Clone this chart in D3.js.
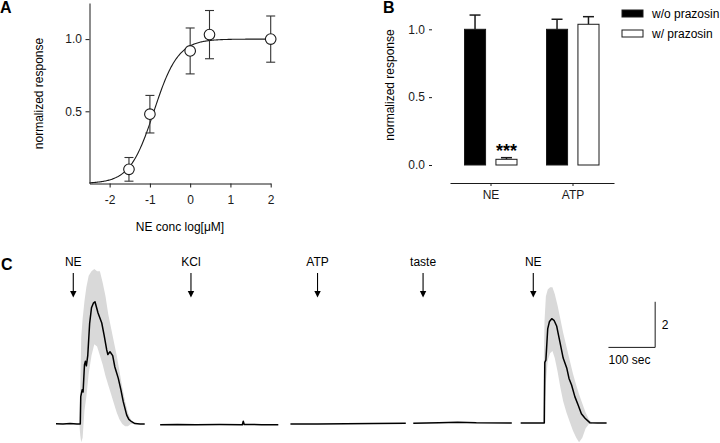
<!DOCTYPE html>
<html><head><meta charset="utf-8">
<script src="https://cdn.jsdelivr.net/npm/d3@7"></script>
<style>body{margin:0;background:#fff}svg{display:block;font-family:"Liberation Sans",Arial,sans-serif}</style>
</head><body><svg id="c" width="720" height="443"></svg>
<script>
// ---------- Panel A data ----------
const doseX = [-1.52, -1.0, 0.0, 0.48, 2.0];
const doseY = [0.098, 0.48, 0.918, 1.031, 1.0];
const doseErr = [0.082, 0.13, 0.159, 0.167, 0.16];
const fitLogEC50 = -0.9, fitHill = 1.45, fitTop = 1.0, fitBottom = 0.0;
const aXTicks = [-2, -1, 0, 1, 2];
const aYTicks = [0.5, 1.0];
// ---------- Panel B data ----------
const drugs = ["NE", "ATP"];
const seriesNames = ["w/o prazosin", "w/ prazosin"];
const withoutPrazosin = [1.0, 1.0];
const withoutErr = [0.105, 0.074];
const withPrazosin = [0.042, 1.037];
const withErr = [0.012, 0.056];
const bYTicks = [0.0, 0.5, 1.0];
// ---------- Panel C data ----------
const stimuli = ["NE", "KCl", "ATP", "taste", "NE"];
const stimTimes = [37, 289, 560, 786, 1022];
const trace1T = [0, 15, 30, 45, 52, 53, 56, 58, 61, 63, 65, 68, 72, 76, 80, 83.5, 90, 98, 103, 108.6, 111, 115.6, 121.4, 126, 133.4, 139, 144, 151.4, 156, 162, 169, 180, 190];
const trace1V = [0.01, 0.0, 0.02, 0.0, 0.0, 1.2, 1.5, 1.4, 2.6, 2.75, 2.55, 3.0, 4.4, 5.1, 5.3, 5.36, 4.87, 4.43, 3.9, 3.25, 3.05, 3.17, 3.0, 2.5, 2.0, 1.5, 0.98, 0.39, 0.2, 0.1, 0.02, 0.0, 0.0];
const trace2T = [223, 260, 300, 350, 399, 401, 403, 440, 476];
const trace2V = [-0.03, -0.02, -0.03, -0.02, -0.03, 0.12, -0.02, -0.03, -0.03];
const trace3T = [502, 560, 620, 680, 749];
const trace3V = [0.0, 0.0, 0.01, 0.02, 0.03];
const trace4T = [765, 820, 860, 900, 976];
const trace4V = [0.03, 0.05, 0.08, 0.05, 0.04];
const trace5T = [995, 1020, 1045.6, 1046.7, 1049, 1052.9, 1056.7, 1061.5, 1066.4, 1072, 1076, 1079, 1086, 1093.6, 1098.5, 1104, 1111, 1118, 1125, 1132.8, 1143, 1160, 1179];
const trace5V = [0.04, 0.04, 0.04, 2.7, 2.8, 4.17, 4.5, 4.62, 4.55, 4.3, 3.9, 3.6, 2.89, 2.46, 2.0, 1.71, 1.2, 0.83, 0.45, 0.25, 0.06, 0.04, 0.04];
const band1T = [50, 52, 54, 57, 61, 65, 70, 76, 82, 88, 94, 100, 106, 112, 118, 124, 130, 136, 142, 148, 154, 160, 166];
const band1Lo = [0, -0.5, -0.8, -0.6, 0.6, 1.2, 2.2, 3.0, 3.5, 3.4, 3.0, 2.6, 2.1, 1.7, 1.3, 0.9, 0.5, 0.2, 0.0, -0.1, -0.1, 0, 0];
const band1Hi = [0, 1.5, 3.8, 4.6, 5.4, 6.0, 6.5, 6.7, 6.8, 6.7, 6.7, 6.2, 5.6, 4.8, 4.2, 3.6, 3.0, 2.3, 1.6, 1.0, 0.5, 0.2, 0.05];
const band2T = [1043, 1044, 1046, 1049, 1053, 1058, 1063, 1068, 1074, 1080, 1086, 1093, 1100, 1107, 1114, 1120, 1127, 1134, 1141, 1148];
const band2Lo = [0, 0, 0.5, 1.8, 2.8, 3.1, 3.2, 2.9, 2.3, 1.6, 1.0, 0.5, 0.1, -0.3, -0.6, -0.8, -0.6, -0.2, 0, 0];
const band2Hi = [0, 2.0, 4.5, 5.6, 5.9, 6.0, 6.0, 5.7, 5.2, 4.6, 4.0, 3.4, 2.8, 2.2, 1.7, 1.3, 0.9, 0.5, 0.2, 0.05];
const scaleBarSec = 100, scaleBarUnits = 2;

const svg = d3.select("#c");
const FONT = 12;
const ink = "#1a1a1a";

// ================= Panel A =================
const ax = d3.scaleLinear().domain([-2.5, 2]).range([89.5, 270.7]);
const ay = d3.scaleLinear().domain([0, 1.25]).range([183.5, 3]);
const gA = svg.append("g");
gA.append("g").attr("transform", "translate(0,183.5)")
  .call(d3.axisBottom(ax).tickValues(aXTicks).tickSize(4).tickSizeOuter(0).tickPadding(7.5).tickFormat(d => String(d)))
  .call(g => { g.selectAll("text").attr("font-size", FONT).attr("font-family", null).attr("fill", ink); g.selectAll("line,path").attr("stroke", ink); });
gA.append("g").attr("transform", "translate(89.5,0)")
  .call(d3.axisLeft(ay).tickValues(aYTicks).tickSize(4).tickSizeOuter(0).tickPadding(3.5).tickFormat(d => d.toFixed(1)))
  .call(g => { g.selectAll("text").attr("font-size", FONT).attr("font-family", null).attr("fill", ink); g.selectAll("line,path").attr("stroke", ink); });
// fitted curve (Hill equation with the fitted parameters)
const hill = x => fitBottom + (fitTop - fitBottom) / (1 + Math.pow(10, (fitLogEC50 - x) * fitHill));
const curveX = d3.range(-2.5, 2.0001, 0.02);
gA.append("path").datum(curveX).attr("fill", "none").attr("stroke", ink).attr("stroke-width", 1.1)
  .attr("d", d3.line().x(d => ax(d)).y(d => ay(hill(d))));
// error bars + points
doseX.forEach((x, i) => {
  const g = gA.append("g").attr("stroke", "#333").attr("stroke-width", 1.1);
  const px = ax(x), t = ay(doseY[i] + doseErr[i]), b = ay(doseY[i] - doseErr[i]);
  g.append("line").attr("x1", px).attr("x2", px).attr("y1", t).attr("y2", b);
  g.append("line").attr("x1", px - 4.5).attr("x2", px + 4.5).attr("y1", t).attr("y2", t);
  g.append("line").attr("x1", px - 4.5).attr("x2", px + 4.5).attr("y1", b).attr("y2", b);
  gA.append("circle").attr("cx", px).attr("cy", ay(doseY[i])).attr("r", 5.3)
    .attr("fill", "#fff").attr("stroke", ink).attr("stroke-width", 1.1);
});
gA.append("text").attr("transform", "translate(43,93.5) rotate(-90)").attr("text-anchor", "middle")
  .attr("font-size", FONT).text("normalized response");
gA.append("text").attr("x", 180).attr("y", 231).attr("text-anchor", "middle").attr("font-size", FONT).text("NE conc log[μM]");
svg.append("text").attr("x", 0).attr("y", 13).attr("font-size", 16).attr("font-weight", "bold").text("A");

// ================= Panel B =================
const bx = d3.scaleBand().domain(drugs).range([450, 614]).paddingInner(0).paddingOuter(0);
const bsub = d3.scaleBand().domain(seriesNames).range([14.5, 67]).paddingInner(0.33);
const by = d3.scaleLinear().domain([0, 1]).range([165, 29.3]);
const gB = svg.append("g");
gB.append("g").attr("transform", "translate(432,0)")
  .call(d3.axisLeft(by).tickValues(bYTicks).tickSize(3).tickPadding(4).tickFormat(d => d.toFixed(1)))
  .call(g => { g.select(".domain").remove(); g.selectAll("text").attr("font-size", FONT).attr("font-family", null).attr("fill", ink); g.selectAll("line").attr("stroke", ink); });
gB.append("g").attr("transform", "translate(0,183)")
  .call(d3.axisBottom(bx).tickSize(3).tickSizeOuter(0).tickPadding(4))
  .call(g => { g.selectAll("text").attr("font-size", FONT).attr("font-family", null).attr("fill", ink); g.selectAll("line,path").attr("stroke", ink); });
const seriesVals = [withoutPrazosin, withPrazosin];
const seriesErrs = [withoutErr, withErr];
const seriesFill = ["#000", "#fff"];
drugs.forEach((d, i) => {
  seriesNames.forEach((s, j) => {
    const x0 = bx(d) + bsub(s), w = bsub.bandwidth(), v = seriesVals[j][i], e = seriesErrs[j][i];
    const mx = x0 + w / 2;
    gB.append("line").attr("x1", mx).attr("x2", mx).attr("y1", by(v)).attr("y2", by(v + e)).attr("stroke", ink).attr("stroke-width", 1.5);
    gB.append("line").attr("x1", mx - 5.5).attr("x2", mx + 5.5).attr("y1", by(v + e)).attr("y2", by(v + e)).attr("stroke", ink).attr("stroke-width", 1.5);
    gB.append("rect").attr("x", x0).attr("y", by(v)).attr("width", w).attr("height", by(0) - by(v))
      .attr("fill", seriesFill[j]).attr("stroke", ink).attr("stroke-width", 1);
  });
});
gB.append("text").attr("x", bx("NE") + bsub(seriesNames[1]) + bsub.bandwidth() / 2).attr("y", 157)
  .attr("text-anchor", "middle").attr("font-size", 18).attr("font-weight", "bold").text("***");
gB.append("text").attr("transform", "translate(394,85) rotate(-90)").attr("text-anchor", "middle")
  .attr("font-size", FONT).text("normalized response");
seriesNames.forEach((s, j) => {
  gB.append("rect").attr("x", 622).attr("y", 10 + j * 20).attr("width", 21).attr("height", 7)
    .attr("fill", seriesFill[j]).attr("stroke", ink).attr("stroke-width", 1);
  gB.append("text").attr("x", 652).attr("y", 18 + j * 20).attr("font-size", FONT).text(s);
});
svg.append("text").attr("x", 383).attr("y", 13).attr("font-size", 16).attr("font-weight", "bold").text("B");

// ================= Panel C =================
const cx = d3.scaleLinear().domain([0, 1179]).range([56, 606.6]);
const cy = d3.scaleLinear().domain([0, 2]).range([424, 378.4]);
const gC = svg.append("g");
const area = d3.area().x(d => cx(d[0])).y0(d => cy(d[1])).y1(d => cy(d[2]));
[[band1T, band1Lo, band1Hi], [band2T, band2Lo, band2Hi]].forEach(([T, L, H]) => {
  gC.append("path").datum(T.map((t, i) => [t, L[i], H[i]])).attr("fill", "#d9d9d9").attr("d", area);
});
const line = d3.line().x(d => cx(d[0])).y(d => cy(d[1]));
[[trace1T, trace1V], [trace2T, trace2V], [trace3T, trace3V], [trace4T, trace4V], [trace5T, trace5V]].forEach(([T, V]) => {
  gC.append("path").datum(T.map((t, i) => [t, V[i]])).attr("fill", "none").attr("stroke", "#000")
    .attr("stroke-width", 1.5).attr("stroke-linejoin", "round").attr("d", line);
});
stimuli.forEach((s, i) => {
  const x = cx(stimTimes[i]);
  gC.append("text").attr("x", x).attr("y", 266).attr("text-anchor", "middle").attr("font-size", FONT).text(s);
  gC.append("line").attr("x1", x).attr("x2", x).attr("y1", 273).attr("y2", 292).attr("stroke", "#000").attr("stroke-width", 1.1);
  gC.append("path").attr("d", `M${x - 3.2},291 L${x + 3.2},291 L${x},297.5 Z`).attr("fill", "#000");
});
// scale bar
const sbT0 = 1183, sbV0 = 3.36;
const sbx0 = cx(sbT0), sbx1 = cx(sbT0 + scaleBarSec), sby0 = cy(sbV0), sby1 = cy(sbV0 + scaleBarUnits);
gC.append("path").attr("d", `M${sbx0},${sby0} L${sbx1},${sby0} L${sbx1},${sby1}`).attr("fill", "none").attr("stroke", ink).attr("stroke-width", 1);
gC.append("text").attr("x", sbx1 + 6.5).attr("y", (sby0 + sby1) / 2 + 4.5).attr("font-size", FONT).text(String(scaleBarUnits));
gC.append("text").attr("x", sbx0).attr("y", 364).attr("font-size", FONT).text(scaleBarSec + " sec");
svg.append("text").attr("x", 1).attr("y", 270).attr("font-size", 16).attr("font-weight", "bold").text("C");
</script></body></html>
